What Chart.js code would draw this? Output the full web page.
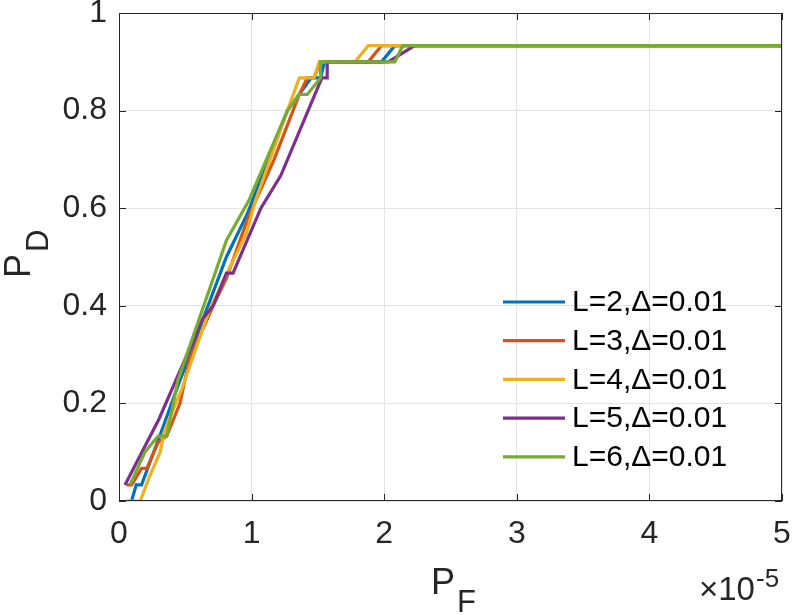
<!DOCTYPE html>
<html>
<head>
<meta charset="utf-8">
<script src="https://cdn.jsdelivr.net/npm/chart.js@4"></script>
<style>
  body { margin: 0; background: #fff; }
  #wrap { width: 794px; height: 615px; }
</style>
</head>
<body>
<div id="wrap"><canvas id="rocChart"></canvas></div>
<script>
    // P_F values are in units of 1e-5 (axis multiplier shown bottom right)
    const seriesLabels = ["L=2,\u0394=0.01", "L=3,\u0394=0.01", "L=4,\u0394=0.01", "L=5,\u0394=0.01", "L=6,\u0394=0.01"];
    const seriesColors = ['#0072BD', '#D95319', '#EDB120', '#7E2F8E', '#77AC30'];

    const pfL2 = [0.095, 0.13, 0.17, 0.33, 0.45, 0.81, 0.97, 1.27, 1.45, 1.52, 1.55, 1.98, 2.08, 5];
    const pdL2 = [0, 0.033, 0.033, 0.15, 0.24, 0.5, 0.59, 0.8, 0.867, 0.867, 0.9, 0.9, 0.933, 0.933];

    const pfL3 = [0.058, 0.095, 0.17, 0.21, 0.295, 0.36, 0.46, 0.53, 0.71, 0.81, 0.97, 1.17, 1.36, 1.42, 1.47, 1.52, 1.88, 1.98, 5];
    const pdL3 = [0.033, 0.033, 0.067, 0.067, 0.12, 0.133, 0.2, 0.29, 0.4, 0.456, 0.578, 0.7, 0.833, 0.867, 0.867, 0.9, 0.9, 0.933, 0.933];

    const pfL4 = [0.05, 0.16, 0.23, 0.31, 0.345, 0.47, 0.68, 0.82, 0.96, 1.03, 1.27, 1.36, 1.47, 1.51, 1.78, 1.88, 5];
    const pdL4 = [0, 0, 0.05, 0.1, 0.145, 0.227, 0.39, 0.47, 0.548, 0.616, 0.8, 0.867, 0.867, 0.9, 0.9, 0.933, 0.933];

    const pfL5 = [0.045, 0.3, 0.63, 0.71, 0.81, 0.86, 1.07, 1.22, 1.53, 1.57, 1.57, 2.03, 2.15, 2.23, 5];
    const pdL5 = [0.033, 0.167, 0.373, 0.4, 0.467, 0.467, 0.6, 0.667, 0.867, 0.867, 0.9, 0.9, 0.92, 0.933, 0.933];

    const pfL6 = [0.083, 0.195, 0.295, 0.36, 0.445, 0.81, 0.98, 1.27, 1.36, 1.42, 1.52, 1.52, 2.08, 2.14, 5];
    const pdL6 = [0.033, 0.1, 0.133, 0.133, 0.248, 0.534, 0.616, 0.8, 0.833, 0.833, 0.867, 0.9, 0.9, 0.933, 0.933];

    const pfSeries = [pfL2, pfL3, pfL4, pfL5, pfL6];
    const pdSeries = [pdL2, pdL3, pdL4, pdL5, pdL6];

    const xTicks = [0, 1, 2, 3, 4, 5];
    const yTicks = [0, 0.2, 0.4, 0.6, 0.8, 1];

    const axisColor = '#262626';
    const fontFam = "'Liberation Sans', Arial, sans-serif";

    const datasets = seriesLabels.map(function(label, i) {
        return {
            label: label,
            data: pfSeries[i].map(function(x, j) { return { x: x, y: pdSeries[i][j] }; }),
            borderColor: seriesColors[i],
            backgroundColor: seriesColors[i],
            borderWidth: 3.2,
            pointRadius: 0,
            showLine: true,
            fill: false,
            tension: 0,
            order: seriesLabels.length - 1 - i   // later series drawn on top
        };
    });

    // box, inward ticks, legend and axis titles drawn on top
    const matlabDecor = {
        id: 'matlabDecor',
        afterDraw: function(chart) {
            const ctx = chart.ctx;
            const a = chart.chartArea;
            const xs = chart.scales.x, ys = chart.scales.y;
            const tl = 7;
            ctx.save();
            ctx.strokeStyle = axisColor;
            ctx.lineWidth = 1;
            ctx.strokeRect(Math.round(a.left) + 0.5, Math.round(a.top) + 0.5,
                           Math.round(a.right - a.left) - 1, Math.round(a.bottom - a.top) - 1);
            ctx.beginPath();
            xTicks.forEach(function(v) {
                const px = Math.round(xs.getPixelForValue(v)) + 0.5;
                ctx.moveTo(px, a.bottom); ctx.lineTo(px, a.bottom - tl);
                ctx.moveTo(px, a.top); ctx.lineTo(px, a.top + tl);
            });
            yTicks.forEach(function(v) {
                const py = Math.round(ys.getPixelForValue(v)) + 0.5;
                ctx.moveTo(a.left, py); ctx.lineTo(a.left + tl, py);
                ctx.moveTo(a.right, py); ctx.lineTo(a.right - tl, py);
            });
            ctx.stroke();

            // legend
            ctx.font = '30px ' + fontFam;
            ctx.textBaseline = 'middle';
            ctx.textAlign = 'left';
            chart.data.datasets.forEach(function(ds, i) {
                const yy = 302 + i * 38.7;
                ctx.strokeStyle = ds.borderColor;
                ctx.lineWidth = 3.2;
                ctx.beginPath();
                ctx.moveTo(503, yy); ctx.lineTo(565, yy);
                ctx.stroke();
                ctx.fillStyle = '#000';
                ctx.fillText(ds.label, 572, yy + 1);
            });

            // axis titles
            ctx.fillStyle = axisColor;
            ctx.textBaseline = 'alphabetic';
            ctx.font = '36px ' + fontFam;
            ctx.fillText('P', 431, 594);
            const pw = ctx.measureText('P').width;
            ctx.font = '31px ' + fontFam;
            ctx.fillText('F', 431 + pw + 2, 612);

            ctx.save();
            ctx.translate(30, 278);
            ctx.rotate(-Math.PI / 2);
            ctx.font = '36px ' + fontFam;
            ctx.fillText('P', 0, 0);
            ctx.font = '31px ' + fontFam;
            ctx.fillText('D', pw + 2, 18);
            ctx.restore();

            // exponent
            ctx.font = '33px ' + fontFam;
            ctx.fillText('\u00d710', 699, 600);
            const ew = ctx.measureText('\u00d710').width;
            ctx.font = '26px ' + fontFam;
            ctx.fillText('-5', 699 + ew + 1, 587);
            ctx.restore();
        }
    };

    new Chart(document.getElementById('rocChart').getContext('2d'), {
        type: 'scatter',
        data: { datasets: datasets },
        options: {
            responsive: true,
            maintainAspectRatio: false,
            animation: false,
            devicePixelRatio: 1,
            layout: { padding: { left: 0, right: 12, top: 13, bottom: 0 } },
            plugins: {
                legend: { display: false },
                tooltip: { enabled: false }
            },
            scales: {
                x: {
                    type: 'linear',
                    min: 0,
                    max: 5,
                    afterFit: function(scale) {
                        scale.height = 114;
                        scale.paddingLeft = 0;
                        scale.paddingRight = 0;
                    },
                    afterBuildTicks: function(scale) { scale.ticks = xTicks.map(function(v) { return { value: v }; }); },
                    grid: { color: '#e3e3e3', lineWidth: 1, drawTicks: false },
                    border: { display: false },
                    ticks: {
                        padding: 14,
                        color: axisColor,
                        font: { family: fontFam, size: 32 },
                        maxRotation: 0,
                        callback: function(v) { return String(v); }
                    }
                },
                y: {
                    type: 'linear',
                    min: 0,
                    max: 1,
                    afterFit: function(scale) {
                        scale.width = 119;
                        scale.paddingTop = 0;
                        scale.paddingBottom = 0;
                    },
                    afterBuildTicks: function(scale) { scale.ticks = yTicks.map(function(v) { return { value: v }; }); },
                    grid: { color: '#e3e3e3', lineWidth: 1, drawTicks: false },
                    border: { display: false },
                    ticks: {
                        padding: 12,
                        color: axisColor,
                        font: { family: fontFam, size: 32 },
                        callback: function(v) { return (v === 0 || v === 1) ? String(v) : v.toFixed(1); }
                    }
                }
            }
        },
        plugins: [matlabDecor]
    });
</script>
</body>
</html>
